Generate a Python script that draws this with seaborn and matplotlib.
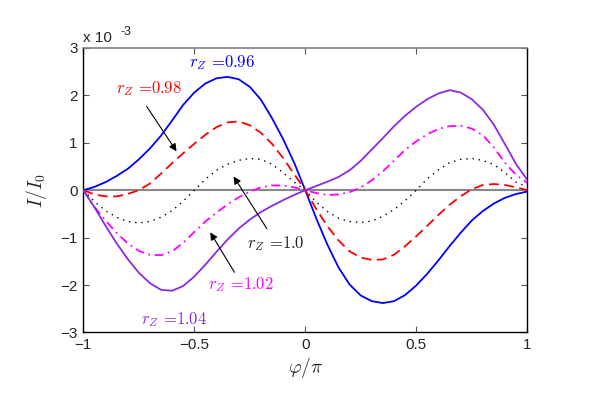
import numpy as np
import pandas as pd
import matplotlib
matplotlib.use("Agg")
import matplotlib.pyplot as plt
import seaborn as sns

# phase grid (phi / pi)
phi = [-1.0, -0.95, -0.9, -0.85, -0.8, -0.75, -0.7, -0.65, -0.6, -0.55, -0.5,
       -0.45, -0.4, -0.35, -0.3, -0.25, -0.2, -0.15, -0.1, -0.05, 0.0,
       0.05, 0.1, 0.15, 0.2, 0.25, 0.3, 0.35, 0.4, 0.45, 0.5,
       0.55, 0.6, 0.65, 0.7, 0.75, 0.8, 0.85, 0.9, 0.95, 1.0]

# I/I0 in units of 1e-3
i_096 = [0.0, 0.07, 0.17, 0.30, 0.45, 0.65, 0.88, 1.15, 1.47, 1.80, 2.06,
         2.25, 2.36, 2.39, 2.34, 2.18, 1.91, 1.52, 1.08, 0.58, 0.0,
         -0.60, -1.15, -1.63, -1.99, -2.22, -2.34, -2.38, -2.34, -2.21, -2.01,
         -1.76, -1.48, -1.18, -0.90, -0.64, -0.44, -0.28, -0.16, -0.08, -0.03]
i_098 = [0.0, -0.09, -0.13, -0.13, -0.08, 0.0, 0.14, 0.35, 0.57, 0.78, 0.98,
         1.17, 1.33, 1.43, 1.45, 1.37, 1.21, 0.98, 0.68, 0.34, 0.0,
         -0.40, -0.76, -1.06, -1.29, -1.42, -1.47, -1.46, -1.36, -1.18, -0.97,
         -0.75, -0.52, -0.31, -0.13, 0.02, 0.11, 0.13, 0.11, 0.06, 0.0]
i_100 = [0.0, -0.24, -0.43, -0.57, -0.66, -0.69, -0.66, -0.57, -0.43, -0.23, 0.0,
         0.23, 0.42, 0.55, 0.63, 0.67, 0.65, 0.55, 0.37, 0.17, 0.0,
         -0.25, -0.45, -0.59, -0.66, -0.68, -0.65, -0.55, -0.41, -0.22, 0.0,
         0.24, 0.43, 0.58, 0.65, 0.67, 0.63, 0.54, 0.37, 0.17, 0.07]
i_102 = [0.0, -0.35, -0.64, -0.90, -1.12, -1.28, -1.36, -1.37, -1.29, -1.11, -0.88,
         -0.66, -0.47, -0.30, -0.15, -0.03, 0.06, 0.10, 0.10, 0.06, 0.0,
         -0.06, -0.10, -0.09, -0.04, 0.06, 0.21, 0.40, 0.62, 0.85, 1.03,
         1.18, 1.29, 1.35, 1.36, 1.30, 1.16, 0.90, 0.58, 0.32, 0.16]
i_104 = [0.0, -0.36, -0.75, -1.12, -1.45, -1.74, -1.96, -2.10, -2.12, -2.02, -1.82,
         -1.57, -1.30, -1.04, -0.81, -0.62, -0.46, -0.33, -0.21, -0.10, 0.0,
         0.09, 0.18, 0.28, 0.42, 0.62, 0.86, 1.10, 1.35, 1.57, 1.76,
         1.92, 2.04, 2.11, 2.06, 1.92, 1.70, 1.38, 0.97, 0.55, 0.22]

sns.set_theme(style="ticks")
plt.rcParams["font.family"] = ["Liberation Sans", "DejaVu Sans"]
plt.rcParams["mathtext.fontset"] = "cm"
plt.rcParams["xtick.direction"] = "in"
plt.rcParams["ytick.direction"] = "in"

fig = plt.figure(figsize=(5.91, 3.93), dpi=100)
ax = fig.add_axes([0.141, 0.154, 0.751, 0.724])

ax.axhline(0, color="#888888", lw=1.5, zorder=1)

sns.lineplot(x=phi, y=i_096, color="#0000ff", lw=1.3, ax=ax, zorder=3)
sns.lineplot(x=phi, y=i_098, color="#ff0000", lw=1.3, linestyle=(0, (5.5, 3)), ax=ax, zorder=3)
sns.lineplot(x=phi, y=i_100, color="black", lw=1.0, linestyle=(0, (1, 3.5)), ax=ax, zorder=3)
sns.lineplot(x=phi, y=i_102, color="#ff00ff", lw=1.3, linestyle=(0, (5, 2.5, 1, 2.5)), ax=ax, zorder=3)
sns.lineplot(x=phi, y=i_104, color="#8a2be2", lw=1.3, ax=ax, zorder=3)

ax.set_xlim(-1, 1)
ax.set_ylim(-3, 3)
ax.set_xticks([-1, -0.5, 0, 0.5, 1])
ax.set_xticklabels(["\u22121", "\u22120.5", "0", "0.5", "1"])
ax.set_yticks([-3, -2, -1, 0, 1, 2, 3])
ax.set_yticklabels(["\u22123", "\u22122", "\u22121", "0", "1", "2", "3"])
ax.tick_params(axis="both", labelsize=11, length=4, width=0.8, color="#555555",
               top=True, right=True, pad=4)
for side in ["left", "right", "bottom"]:
    ax.spines[side].set_color("black")
    ax.spines[side].set_linewidth(1.0)
ax.spines["top"].set_color("#808080")
ax.spines["top"].set_linewidth(1.2)

ax.set_xlabel(r"$\varphi/\pi$", fontsize=14, labelpad=2)
ax.set_ylabel(r"$I/I_0$", fontsize=14, labelpad=8)

ax.text(0.0, 1.012, "x 10", transform=ax.transAxes, fontsize=11, ha="left", va="bottom")
ax.text(0.084, 1.035, "-3", transform=ax.transAxes, fontsize=9, ha="left", va="bottom")

# curve labels: math r_Z, then roman text in Computer Modern
lab = dict(fontsize=12, ha="center", va="center", family="cmr10")
ax.text(-0.374, 2.70, r"$r_Z$ =0.96", color="#0000ff", **lab)
ax.text(-0.706, 2.15, r"$r_Z$ =0.98", color="#ff0000", **lab)
ax.text(-0.132, -1.13, r"$r_Z$ =1.0", color="#222222", **lab)
ax.text(-0.289, -1.98, r"$r_Z$ =1.02", color="#ff00ff", **lab)
ax.text(-0.59, -2.72, r"$r_Z$ =1.04", color="#8a2be2", **lab)

arrow = dict(arrowstyle="-|>", color="black", lw=0.8, mutation_scale=11, shrinkA=0, shrinkB=0)
ax.annotate("", xy=(-0.58, 0.82), xytext=(-0.715, 1.77), arrowprops=arrow)
ax.annotate("", xy=(-0.323, 0.29), xytext=(-0.173, -0.81), arrowprops=arrow)
ax.annotate("", xy=(-0.428, -0.89), xytext=(-0.319, -1.73), arrowprops=arrow)

fig.savefig("out.png", dpi=100)
